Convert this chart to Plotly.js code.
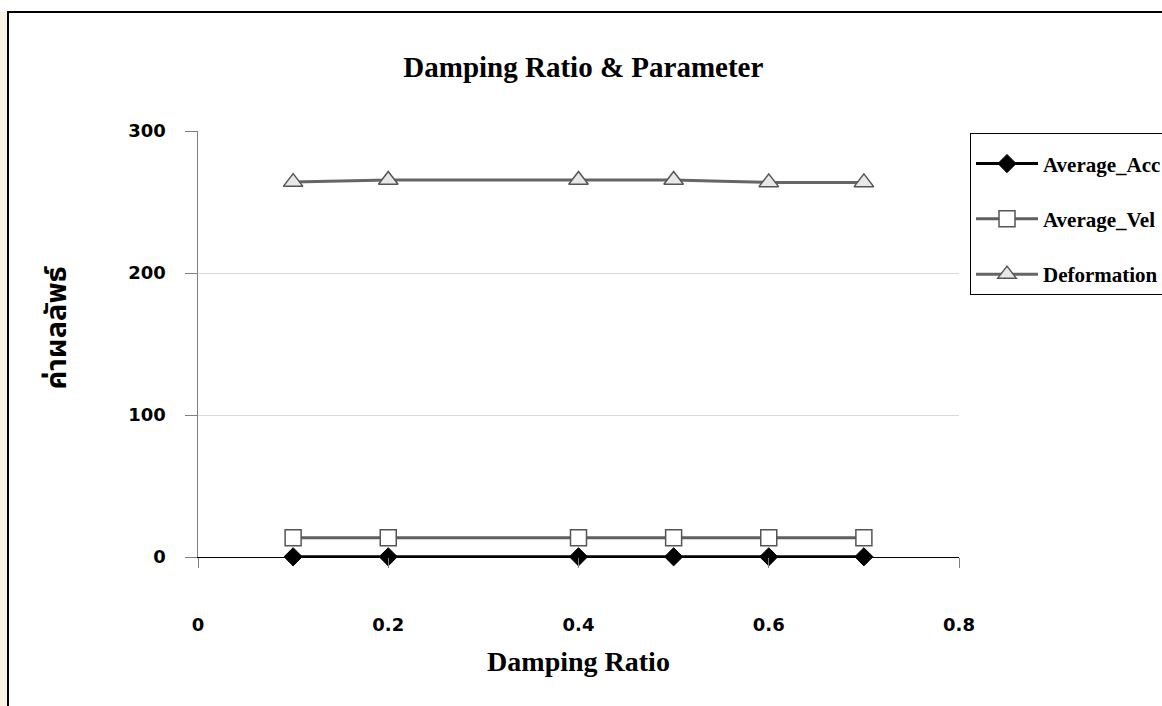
<!DOCTYPE html>
<html>
<head>
<meta charset="utf-8">
<script src="https://cdn.plot.ly/plotly-3.0.1.min.js"></script>
<style>
html,body{margin:0;padding:0;background:#fff;}
#wrap{position:relative;width:1162px;height:706px;overflow:hidden;}
#chart{position:absolute;left:0;top:0;width:1162px;height:706px;}
#strip{position:absolute;left:0;top:12px;width:7px;height:694px;background:#fbf4e6;}
#frame{position:absolute;left:7px;top:11px;width:1200px;height:800px;border-left:2px solid #000;border-top:2px solid #000;pointer-events:none;}
</style>
</head>
<body>
<div id="wrap">
  <div id="chart"></div>
  <div id="strip"></div>
  <div id="frame"></div>
</div>
<script>
// ---- data ----
var dampingRatio = [0.1, 0.2, 0.4, 0.5, 0.6, 0.7];
var averageAcc = [0.15, 0.15, 0.15, 0.15, 0.15, 0.15];
var averageVel = [13.5, 13.5, 13.5, 13.5, 13.5, 13.5];
var deformation = [264.0, 265.5, 265.5, 265.5, 263.8, 263.8];
var seriesNames = ["Average_Acc", "Average_Vel", "Deformation"];
var xTickVals = [0, 0.2, 0.4, 0.6, 0.8];
var xTickText = ["0", "0.2", "0.4", "0.6", "0.8"];
var yTickVals = [0, 100, 200, 300];
var yTickText = ["0", "100", "200", "300"];
var chartTitle = "Damping Ratio & Parameter";
var xTitle = "Damping Ratio";
var yTitle = "ค่าผลลัพธ์";

var serif = "Liberation Serif, Times New Roman, serif";
var tickFont = {family: "DejaVu Sans, sans-serif", size: 18, color: "#000", weight: "bold"};

var traces = [
  {
    x: dampingRatio, y: averageAcc, name: seriesNames[0], legendgroup: "a",
    type: "scatter", mode: "lines+markers", cliponaxis: false,
    line: {color: "#000000", width: 3},
    marker: {symbol: "diamond", size: 14, color: "#000000", line: {color: "#000000", width: 1}}
  },
  {
    x: dampingRatio, y: averageVel, name: seriesNames[1], legendgroup: "b",
    type: "scatter", mode: "lines+markers", cliponaxis: false,
    line: {color: "#5f5f5f", width: 3},
    marker: {symbol: "square", size: 16, color: "#ffffff", line: {color: "#555555", width: 1.5}}
  },
  {
    x: dampingRatio, y: deformation, name: seriesNames[2], legendgroup: "c",
    type: "scatter", mode: "lines+markers", cliponaxis: false,
    line: {color: "#666666", width: 3, shape: "spline", smoothing: 0.5},
    marker: {symbol: "triangle-up", size: 17, color: "#e8e8e8", line: {color: "#555555", width: 1.5}}
  }
];

var layout = {
  width: 1162, height: 706,
  margin: {l: 198, r: 203, t: 131, b: 149, pad: 0, autoexpand: false},
  paper_bgcolor: "rgba(0,0,0,0)",
  plot_bgcolor: "rgba(0,0,0,0)",
  showlegend: true,
  title: {
    text: chartTitle,
    font: {family: serif, size: 29, color: "#000", weight: "bold"},
    x: 0.502, xanchor: "center", xref: "container",
    y: 1 - 67/706, yanchor: "middle", yref: "container"
  },
  xaxis: {
    range: [0, 0.8],
    tickmode: "array", tickvals: xTickVals, ticktext: xTickText,
    ticks: "outside", ticklen: 10, tickwidth: 1, tickcolor: "#808080",
    showline: true, linecolor: "#000000", linewidth: 1,
    showgrid: false, zeroline: false,
    tickfont: tickFont,
    ticklabelstandoff: 41,
    title: {text: xTitle, font: {family: serif, size: 28, color: "#000", weight: "bold"}, standoff: 17}
  },
  yaxis: {
    range: [0, 300],
    tickmode: "array", tickvals: yTickVals, ticktext: yTickText,
    ticks: "outside", ticklen: 12, tickwidth: 1, tickcolor: "#808080",
    showline: true, linecolor: "#808080", linewidth: 1.5,
    showgrid: true, gridcolor: "#d9d9d9", gridwidth: 1,
    zeroline: false,
    tickfont: tickFont,
    ticklabelstandoff: 15
  },
  annotations: [
    {
      text: yTitle, textangle: -90,
      xref: "paper", yref: "paper",
      x: (57 - 198) / 761, y: (557.3 - 328) / 425.6,
      xanchor: "center", yanchor: "middle", showarrow: false,
      font: {family: "Noto Sans Thai, Loma, Garuda, Tlwg Typo, Norasi, DejaVu Sans, sans-serif", size: 29, color: "#000", weight: "bold"}
    }
  ],
  legend: {
    x: (970 - 198) / 761, xanchor: "left",
    y: (557.3 - 134) / 425.6, yanchor: "top",
    bordercolor: "#000000", borderwidth: 1,
    bgcolor: "#ffffff",
    font: {family: serif, size: 21, color: "#000", weight: "bold"},
    title: {text: " ", font: {size: 7}},
    tracegroupgap: 25,
    itemwidth: 62,
    traceorder: "grouped"
  }
};

Plotly.newPlot("chart", traces, layout, {displayModeBar: false, staticPlot: true});
</script>
</body>
</html>
